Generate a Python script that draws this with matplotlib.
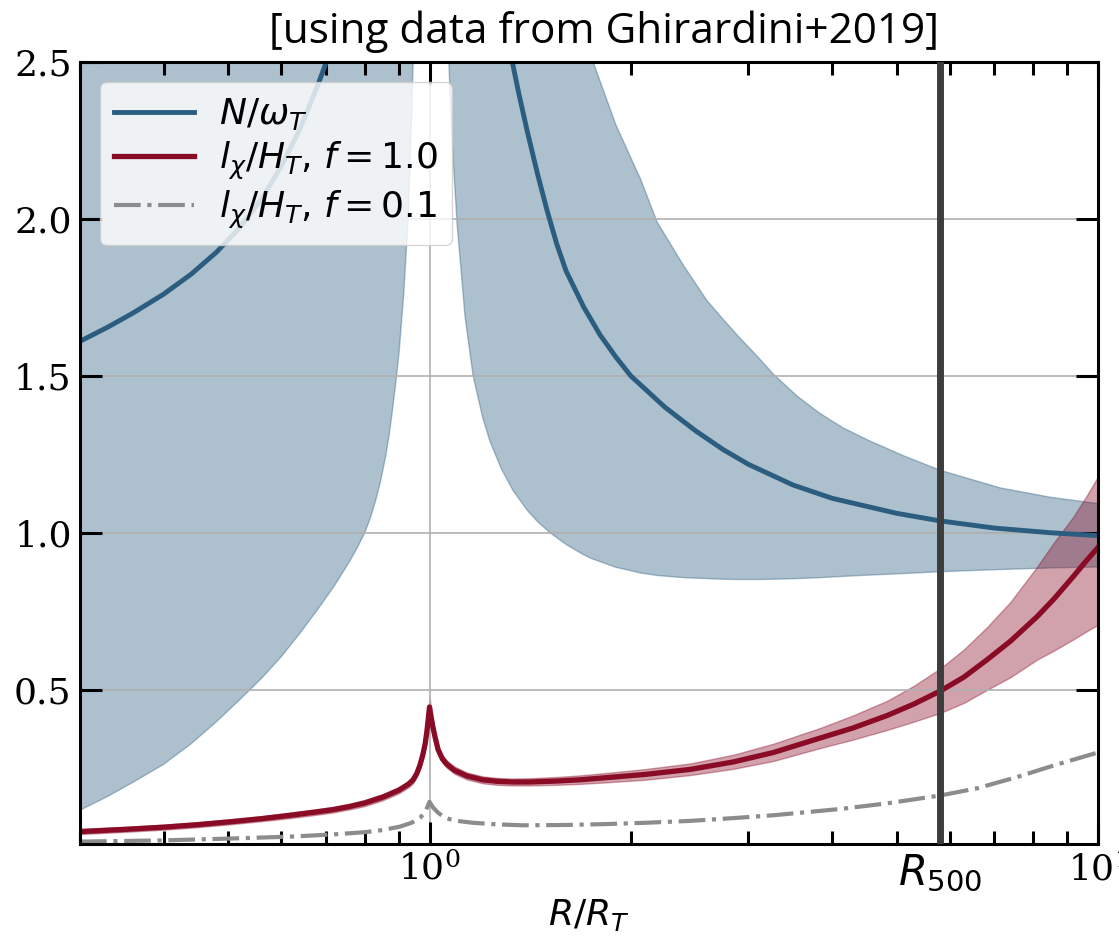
import matplotlib
matplotlib.use('Agg')
import matplotlib.pyplot as plt
from matplotlib.ticker import FixedLocator, FixedFormatter, LogLocator, NullFormatter

plt.rcParams['font.family'] = ['DejaVu Sans']
plt.rcParams['mathtext.fontset'] = 'dejavusans'

R500 = 5.8

# N / omega_T, inner branch (R < R_T) and outer branch (R > R_T)
r_n_in = [0.30, 0.33, 0.36, 0.40, 0.44, 0.48, 0.52, 0.56, 0.60, 0.64,
          0.68, 0.705, 0.74, 0.78]
n_in = [1.61, 1.655, 1.70, 1.76, 1.824, 1.894, 1.972, 2.062, 2.167, 2.287,
        2.424, 2.515, 2.66, 2.83]
r_n_out = [1.30, 1.33, 1.36, 1.40, 1.45, 1.50, 1.55, 1.60, 1.70, 1.80,
           1.90, 2.00, 2.25, 2.50, 2.75, 3.00, 3.50, 4.00, 5.00, 5.80,
           7.00, 8.50, 10.0]
n_out = [2.60, 2.50, 2.40, 2.28, 2.145, 2.025, 1.92, 1.835, 1.72, 1.63,
         1.56, 1.50, 1.40, 1.325, 1.265, 1.218, 1.152, 1.11, 1.062, 1.038,
         1.015, 1.00, 0.991]

# uncertainty band on N / omega_T
r_nb_in = [0.30, 0.33, 0.36, 0.40, 0.44, 0.48, 0.52, 0.56, 0.60, 0.64,
           0.68, 0.72, 0.76, 0.78, 0.80, 0.815, 0.83, 0.845, 0.86, 0.87,
           0.88, 0.89, 0.90, 0.915, 0.929, 0.940, 0.948, 0.955, 0.96]
nb_in_lo = [0.116, 0.16, 0.205, 0.262, 0.328, 0.398, 0.468, 0.535, 0.605, 0.68,
            0.755, 0.83, 0.91, 0.953, 1.0, 1.045, 1.10, 1.165, 1.245, 1.31,
            1.39, 1.475, 1.57, 1.76, 2.0, 2.32, 2.6, 3.0, 3.5]
nb_in_hi = [6.0] * len(r_nb_in)
r_nb_out = [1.045, 1.062, 1.08, 1.10, 1.13, 1.162, 1.20, 1.232, 1.28, 1.333,
            1.40, 1.45, 1.515, 1.60, 1.70, 1.739, 1.757, 1.90, 2.05, 2.066,
            2.19, 2.40, 2.60, 2.75, 2.90, 3.10, 3.27, 3.55, 3.84, 4.15,
            4.52, 5.11, 5.81, 7.14, 8.50, 10.0]
nb_out_lo = [3.4, 2.65, 2.26, 1.98, 1.69, 1.50, 1.37, 1.29, 1.205, 1.135,
             1.072, 1.036, 1.0, 0.963, 0.93, 0.92, 0.916, 0.89, 0.874, 0.872,
             0.864, 0.857, 0.854, 0.852, 0.851, 0.851, 0.852, 0.854, 0.857, 0.861,
             0.865, 0.870, 0.876, 0.883, 0.888, 0.891]
nb_out_hi = [6.0, 5.7, 5.4, 5.1, 4.8, 4.5, 4.2, 4.0, 3.75, 3.5,
             3.25, 3.05, 2.9, 2.78, 2.59, 2.53, 2.50, 2.30, 2.145, 2.13,
             1.99, 1.851, 1.74, 1.68, 1.625, 1.56, 1.505, 1.435, 1.38, 1.335,
             1.296, 1.246, 1.199, 1.143, 1.113, 1.093]

# l_chi / H_T for f = 1.0, with its band
r_l1 = [0.30, 0.35, 0.40, 0.45, 0.508, 0.56, 0.62, 0.68, 0.718, 0.76,
        0.80, 0.852, 0.90, 0.93, 0.945, 0.957, 0.967, 0.977, 0.985, 0.991,
        0.996, 1.0, 1.005, 1.012, 1.019, 1.030, 1.045, 1.062, 1.09, 1.138,
        1.20, 1.262, 1.33, 1.414, 1.55, 1.68, 1.844, 2.10, 2.454, 2.85,
        3.27, 3.84, 4.30, 4.84, 5.30, 5.81, 6.30, 6.83, 7.40, 8.11,
        8.60, 9.18, 9.60, 10.0]
l_f1 = [0.048, 0.055, 0.062, 0.070, 0.080, 0.089, 0.100, 0.111, 0.118, 0.128,
        0.139, 0.158, 0.180, 0.199, 0.213, 0.233, 0.258, 0.292, 0.327, 0.367,
        0.41, 0.445, 0.415, 0.38, 0.35, 0.309, 0.28, 0.262, 0.243, 0.225,
        0.213, 0.208, 0.206, 0.206, 0.209, 0.213, 0.22, 0.23, 0.246, 0.27,
        0.300, 0.346, 0.378, 0.418, 0.454, 0.496, 0.54, 0.596, 0.655, 0.733,
        0.79, 0.86, 0.91, 0.953]
l_f1_hi = [0.056, 0.063, 0.070, 0.078, 0.088, 0.097, 0.109, 0.120, 0.127, 0.137,
           0.149, 0.168, 0.190, 0.209, 0.224, 0.244, 0.27, 0.305, 0.342, 0.385,
           0.432, 0.478, 0.44, 0.40, 0.366, 0.322, 0.292, 0.274, 0.255, 0.236,
           0.224, 0.219, 0.217, 0.218, 0.222, 0.227, 0.235, 0.247, 0.265, 0.293,
           0.328, 0.378, 0.418, 0.465, 0.512, 0.568, 0.628, 0.700, 0.78, 0.892,
           0.97, 1.05, 1.115, 1.179]
l_f1_lo = [0.040, 0.047, 0.054, 0.062, 0.072, 0.081, 0.091, 0.102, 0.109, 0.119,
           0.129, 0.148, 0.170, 0.189, 0.202, 0.222, 0.246, 0.279, 0.312, 0.349,
           0.39, 0.42, 0.395, 0.362, 0.335, 0.297, 0.268, 0.251, 0.232, 0.214,
           0.202, 0.197, 0.195, 0.195, 0.197, 0.200, 0.205, 0.213, 0.228, 0.248,
           0.273, 0.314, 0.341, 0.372, 0.398, 0.426, 0.458, 0.50, 0.54, 0.596,
           0.625, 0.66, 0.685, 0.707]

# l_chi / H_T for f = 0.1
r_l01 = [0.30, 0.40, 0.508, 0.62, 0.718, 0.80, 0.852, 0.904, 0.94, 0.968,
         0.985, 1.0, 1.012, 1.03, 1.05, 1.073, 1.11, 1.162, 1.26, 1.38,
         1.60, 1.844, 2.10, 2.454, 2.85, 3.27, 4.117, 4.84, 5.81, 6.60,
         7.574, 8.60, 10.0]
l_f01 = [0.016, 0.020, 0.026, 0.032, 0.039, 0.046, 0.053, 0.064, 0.076, 0.092,
         0.11, 0.143, 0.125, 0.108, 0.095, 0.087, 0.081, 0.076, 0.071, 0.068,
         0.069, 0.072, 0.076, 0.082, 0.091, 0.100, 0.120, 0.138, 0.163, 0.186,
         0.222, 0.259, 0.30]

blue = '#2b5d80'
red = '#8a0b25'
gray = '#8c8c8c'

fig = plt.figure(figsize=(11.19, 9.39), dpi=100)
ax = fig.add_axes([0.0715, 0.1017, 0.9097, 0.8323])

ax.fill_between(r_nb_in, nb_in_lo, nb_in_hi, color=blue, alpha=0.39)
ax.fill_between(r_nb_out, nb_out_lo, nb_out_hi, color=blue, alpha=0.39)
ax.plot(r_n_in, n_in, color=blue, lw=3.5, label=r'$N/\omega_T$')
ax.plot(r_n_out, n_out, color=blue, lw=3.5)

ax.fill_between(r_l1, l_f1_lo, l_f1_hi, color=red, alpha=0.38)
ax.plot(r_l1, l_f1, color=red, lw=3.8, label=r'$l_\chi/H_T$, $f=1.0$')
ax.plot(r_l01, l_f01, color=gray, lw=3, ls='-.', label=r'$l_\chi/H_T$, $f=0.1$')

ax.axvline(R500, color='#3d3d3d', lw=5, zorder=3)

ax.set_xscale('log')
ax.set_xlim(0.3, 10)
ax.set_ylim(0.01, 2.5)
ax.xaxis.set_major_locator(FixedLocator([1, R500, 10]))
ax.xaxis.set_major_formatter(FixedFormatter([r'$\mathdefault{10^{0}}$', r'$R_{500}$',
                                             r'$\mathdefault{10^{1}}$']))
ax.xaxis.set_minor_locator(LogLocator(base=10, subs=range(2, 10)))
ax.xaxis.set_minor_formatter(NullFormatter())
ax.set_yticks([0.5, 1.0, 1.5, 2.0, 2.5])

ax.tick_params(which='both', direction='in', top=True, right=True, width=2.2)
ax.tick_params(which='major', length=16, labelsize=26, pad=6,
               labelfontfamily='DejaVu Serif')
ax.tick_params(which='minor', length=9.5)
for s in ax.spines.values():
    s.set_linewidth(2.2)

# the R500 marker label is a bit larger than the other tick labels
ax.get_xticklabels()[1].set_fontsize(30)

ax.grid(True, which='major', color='#b0b0b0', lw=1.2)
ax.set_xlabel(r'$R/R_T$', fontsize=26, labelpad=2)

ax.legend(loc='upper left', fontsize=26, handlelength=2.2, handletextpad=0.7,
          borderaxespad=0.55, labelspacing=0.2)

fig.text(604 / 1119, 1 - 43 / 939, '[using data from Ghirardini+2019]',
         fontfamily='Open Sans', fontsize=30.4, ha='center', va='baseline')

fig.savefig('out.png', dpi=100)
